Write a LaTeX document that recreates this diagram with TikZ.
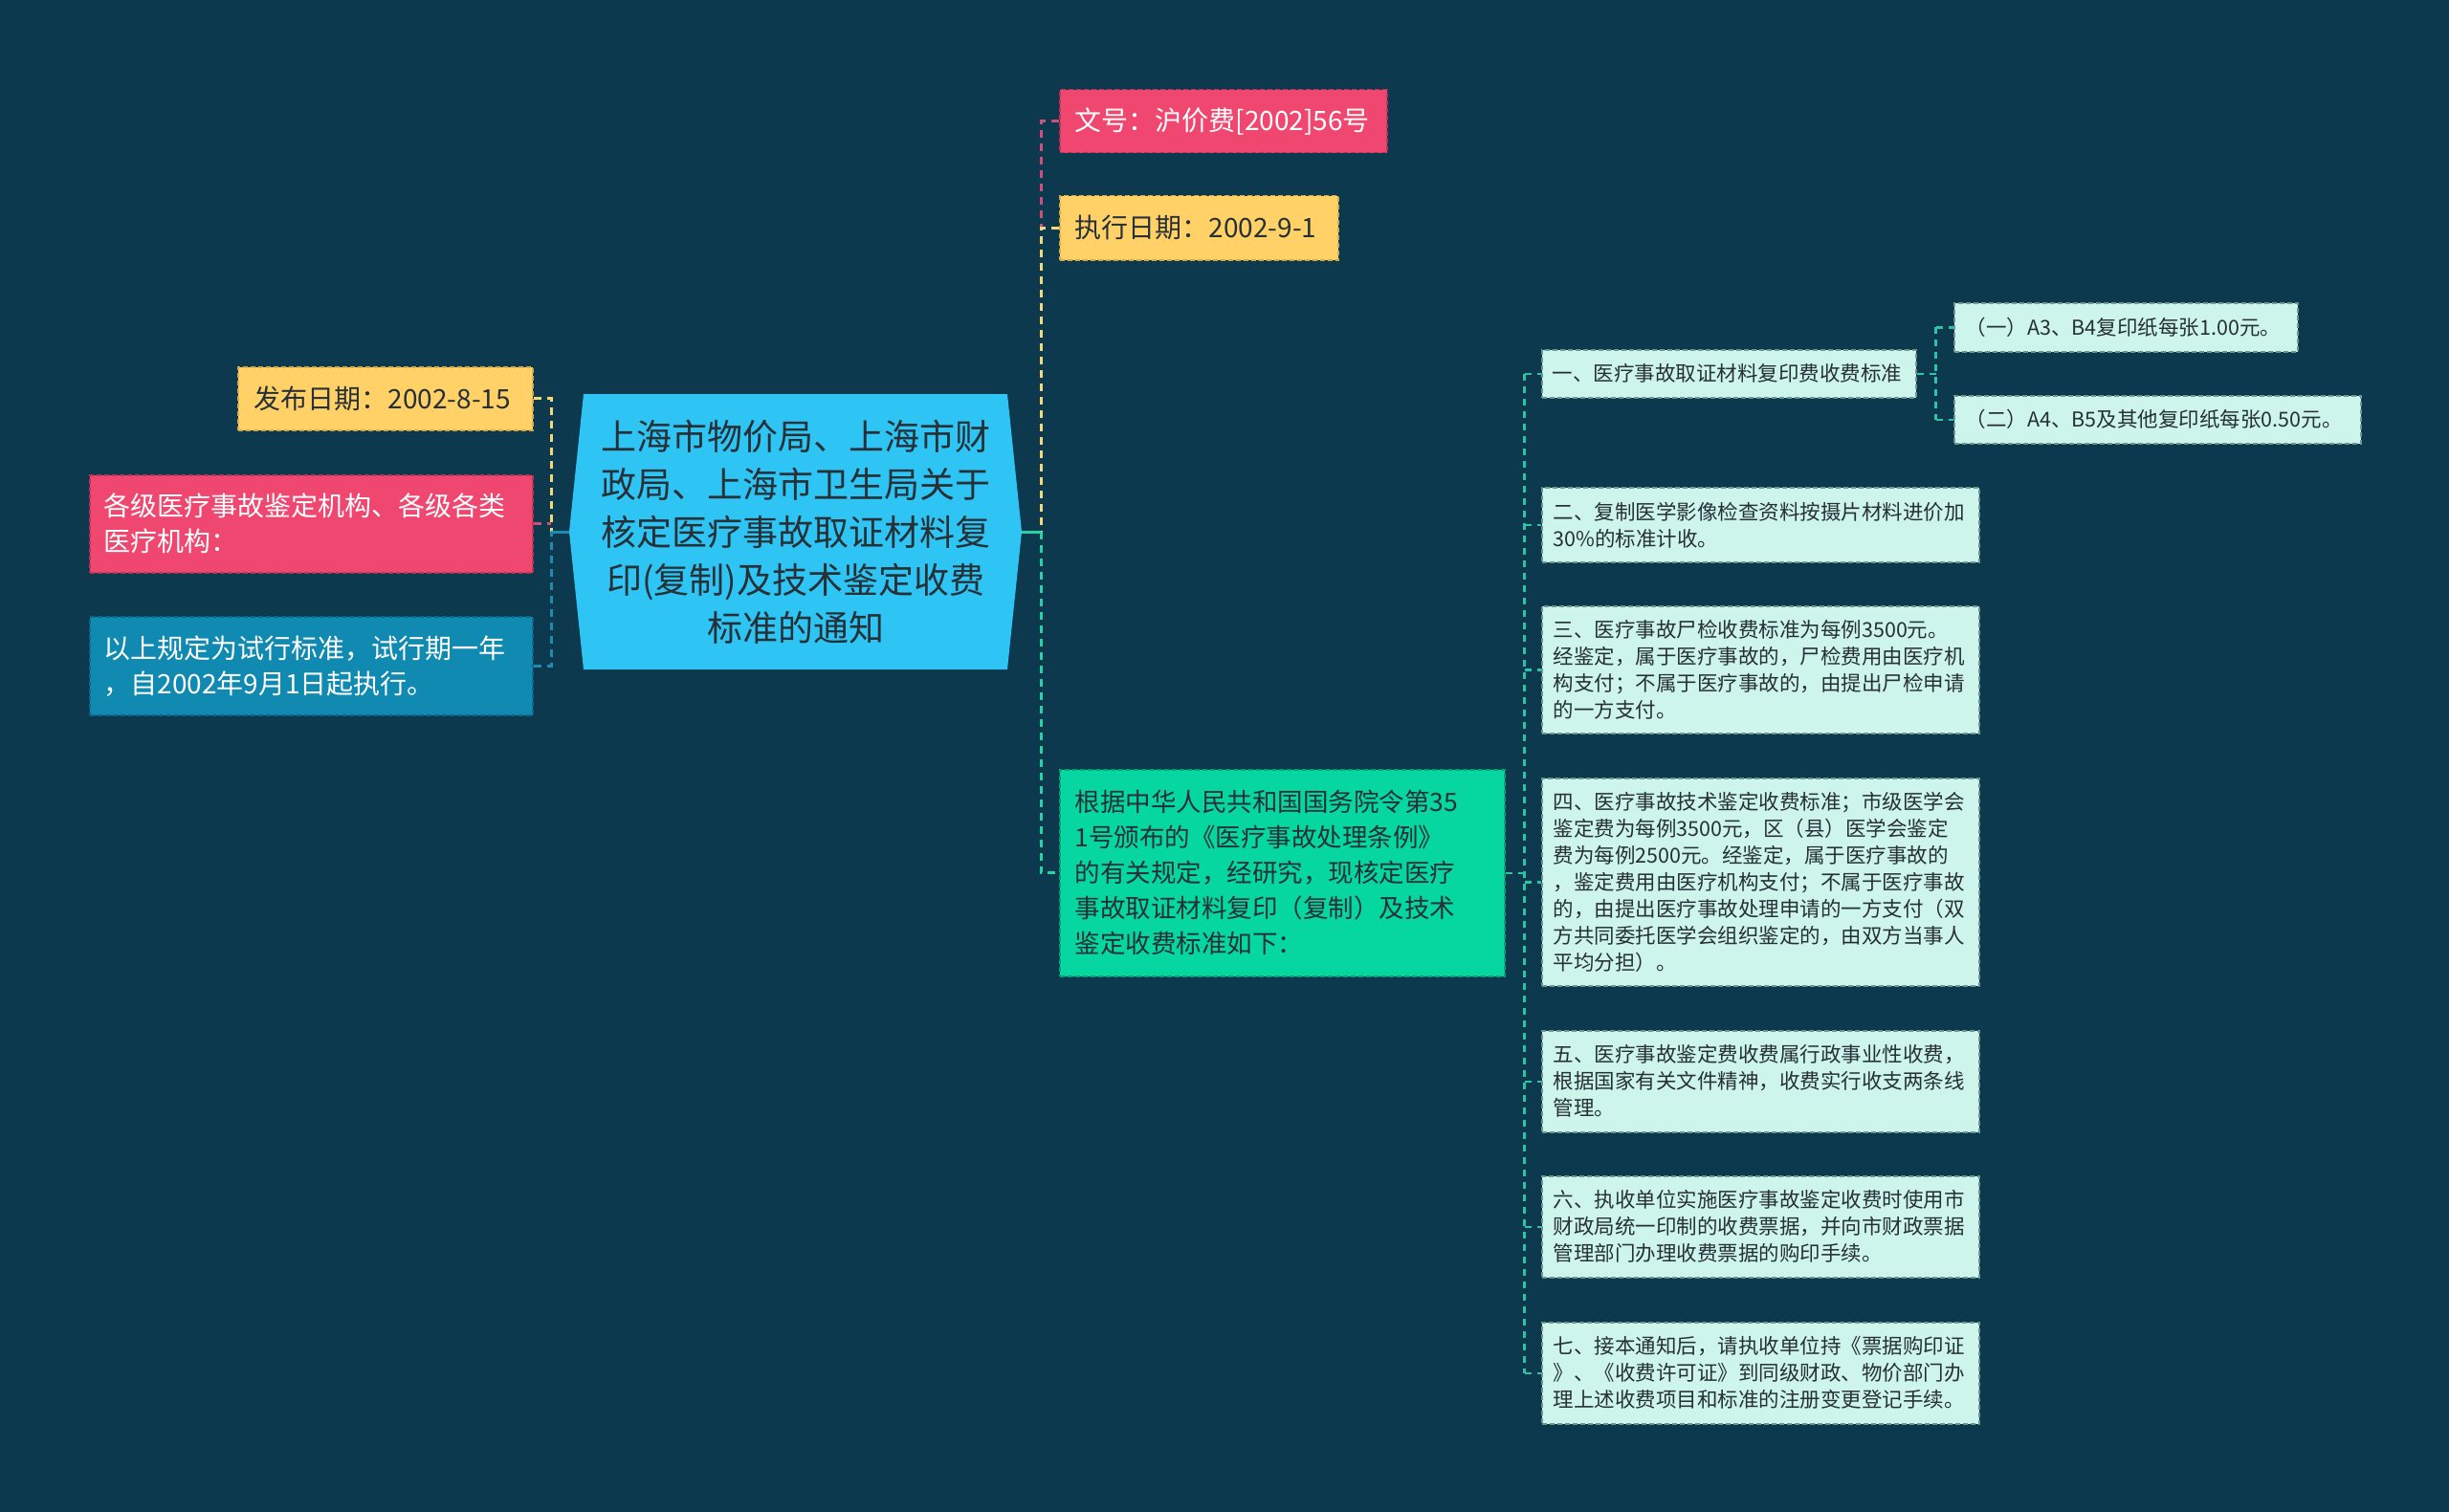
\documentclass[tikz,border=0pt]{standalone}
\usepackage{fontspec}
\usepackage{xcolor}
\usetikzlibrary{math}
\newfontfamily\cjk{Noto Sans CJK SC}
\definecolor{mybg}{RGB}{12,57,77}
\definecolor{mydark}{RGB}{38,48,54}
\definecolor{myroot}{RGB}{46,196,243}
\definecolor{myyellow}{RGB}{255,209,102}
\definecolor{myyellowd}{RGB}{214,170,70}
\definecolor{myyellowl}{RGB}{245,215,120}
\definecolor{mypink}{RGB}{239,71,111}
\definecolor{mypinkd}{RGB}{190,50,88}
\definecolor{mypinkl}{RGB}{205,80,122}
\definecolor{myblue}{RGB}{17,138,178}
\definecolor{myblued}{RGB}{12,104,138}
\definecolor{mybluel}{RGB}{30,140,176}
\definecolor{mygreen}{RGB}{6,214,160}
\definecolor{mygreend}{RGB}{4,160,120}
\definecolor{mygreenl}{RGB}{40,210,165}
\definecolor{mymint}{RGB}{205,245,236}
\definecolor{mymintd}{RGB}{110,150,142}
\definecolor{myteal}{RGB}{43,196,164}
\tikzset{
  tag/.style 2 args={fill=#1, draw=#2, line width=1.5pt, dash pattern=on 5pt off 3pt,
    anchor=north west, inner ysep=0pt, align=left},
  midfont/.style={font={\cjk\fontsize{28}{37}\selectfont}},
  smallfont/.style={font={\cjk\fontsize{21.5}{28}\selectfont}},
  lk/.style={line width=3pt, dash pattern=on 8pt off 6pt},
  lk2/.style={line width=2.5pt, dash pattern=on 7pt off 6pt, draw=myteal},
  sub/.style={tag={mymint}{mymintd}, smallfont, text=mydark, inner xsep=12pt, text width=433pt},
}

\begin{document}
\begin{tikzpicture}[x=1pt,y=-1pt]
\tikzmath{
\W=2560; \H=1581;
\cy=556;
\jL=576; \jR=1088;
}
\fill[mybg] (0,0) rectangle (\W,\H);

% central topic
\fill[myroot] (595,\cy) -- (610,412) -- (1053,412) -- (1068,\cy) -- (1053,700) -- (610,700) -- cycle;
\node[font={\cjk\fontsize{37}{50}\selectfont}, text=mydark, align=center] (root) at (831.5,\cy)
  {上海市物价局、上海市财\\政局、上海市卫生局关于\\核定医疗事故取证材料复\\印(复制)及技术鉴定收费\\标准的通知};
\coordinate (rootW) at (595,\cy);
\coordinate (rootE) at (1068,\cy);
\coordinate (jL) at (\jL,\cy);
\coordinate (jR) at (\jR,\cy);

% left branch
\node[tag={myyellow}{myyellowd}, midfont, text=mydark, inner xsep=17pt, text width=274pt, minimum height=66pt]
  (pubdate) at (248,383) {发布日期：2002-8-15};
\node[tag={mypink}{mypinkd}, midfont, text=white, inner xsep=15pt, text width=433pt, minimum height=102pt]
  (orgs) at (93,496) {各级医疗事故鉴定机构、各级各类\\医疗机构：};
\node[tag={myblue}{myblued}, midfont, text=white, inner xsep=15pt, text width=433pt, minimum height=103pt]
  (trial) at (93,644) {以上规定为试行标准，试行期一年\\，自2002年9月1日起执行。};

\draw[lk, draw=myyellowl] (pubdate.east) -- (jL |- pubdate.east) -- (jL);
\draw[lk, draw=mypinkl] (orgs.east) -- (jL |- orgs.east);
\draw[lk, draw=mybluel] (trial.east) -- (jL |- trial.east) -- (jL);
\draw[line width=3pt, mybluel] (jL) -- (rootW);

% right branch
\node[tag={mypink}{mypinkd}, midfont, text=white, inner xsep=16pt, text width=310pt, minimum height=66pt]
  (docno) at (1107,93) {文号：沪价费[2002]56号};
\node[tag={myyellow}{myyellowd}, midfont, text=mydark, inner xsep=16pt, text width=259pt, minimum height=67pt]
  (execdate) at (1107,204) {执行日期：2002-9-1};
\node[tag={mygreen}{mygreend}, font={\cjk\fontsize{26.5}{37}\selectfont}, text=mydark, inner xsep=16pt,
  text width=433pt, minimum height=216pt] (basis) at (1107,804)
  {根据中华人民共和国国务院令第35\\1号颁布的《医疗事故处理条例》\\的有关规定，经研究，现核定医疗\\事故取证材料复印（复制）及技术\\鉴定收费标准如下：};

\draw[lk, draw=mypinkl] (docno.west) -- (jR |- docno.west) -- (jR |- execdate.west);
\draw[lk, draw=myyellowl] (execdate.west) -- (jR |- execdate.west) -- (jR);
\draw[lk, draw=mygreenl] (jR) -- (jR |- basis.west) -- (basis.west);
\draw[line width=3pt, mygreenl] (rootE) -- (jR);

% standards
\node[sub, inner xsep=11pt, text width=369pt, minimum height=50pt]
  (s1) at (1611,365) {一、医疗事故取证材料复印费收费标准};
\node[sub, inner xsep=12pt, text width=335pt, minimum height=51pt]
  (s1a) at (2042,316) {（一）A3、B4复印纸每张1.00元。};
\node[sub, inner xsep=12pt, text width=401pt, minimum height=50pt]
  (s1b) at (2042,413) {（二）A4、B5及其他复印纸每张0.50元。};
\node[sub, minimum height=78pt] (s2) at (1611,509)
  {二、复制医学影像检查资料按摄片材料进价加\\30\%的标准计收。};
\node[sub, minimum height=133pt] (s3) at (1611,633)
  {三、医疗事故尸检收费标准为每例3500元。\\经鉴定，属于医疗事故的，尸检费用由医疗机\\构支付；不属于医疗事故的，由提出尸检申请\\的一方支付。};
\node[sub, minimum height=217pt] (s4) at (1611,813)
  {四、医疗事故技术鉴定收费标准；市级医学会\\鉴定费为每例3500元，区（县）医学会鉴定\\费为每例2500元。经鉴定，属于医疗事故的\\，鉴定费用由医疗机构支付；不属于医疗事故\\的，由提出医疗事故处理申请的一方支付（双\\方共同委托医学会组织鉴定的，由双方当事人\\平均分担）。};
\node[sub, minimum height=106pt] (s5) at (1611,1077)
  {五、医疗事故鉴定费收费属行政事业性收费，\\根据国家有关文件精神，收费实行收支两条线\\管理。};
\node[sub, minimum height=106pt] (s6) at (1611,1229)
  {六、执收单位实施医疗事故鉴定收费时使用市\\财政局统一印制的收费票据，并向市财政票据\\管理部门办理收费票据的购印手续。};
\node[sub, minimum height=106pt] (s7) at (1611,1382)
  {七、接本通知后，请执收单位持《票据购印证\\》、《收费许可证》到同级财政、物价部门办\\理上述收费项目和标准的注册变更登记手续。};

\coordinate (jG) at ([xshift=20pt]basis.east);
\draw[lk2] (basis.east) -- (jG);
\draw[lk2] (jG |- s1.west) -- (jG |- s7.west);
\foreach \i in {1,...,7}
  \draw[lk2] (jG |- s\i.west) -- (s\i.west);

\coordinate (jS) at ([xshift=20pt]s1.east);
\draw[lk2] (s1.east) -- (jS);
\draw[lk2] (jS |- s1a.west) -- (jS |- s1b.west);
\foreach \t in {s1a,s1b}
  \draw[lk2] (jS |- \t.west) -- (\t.west);
\end{tikzpicture}
\end{document}
